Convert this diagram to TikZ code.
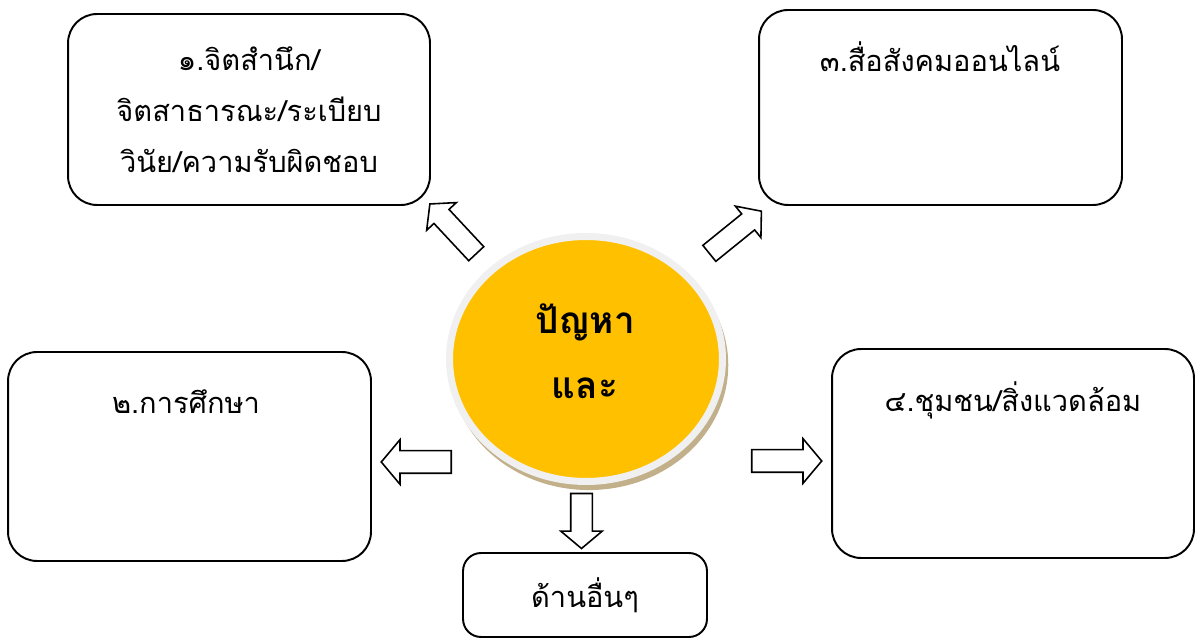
\documentclass[tikz,border=0pt]{standalone}
\usepackage{fontspec}
\usepackage{tikz}
\usetikzlibrary{shapes.geometric,shapes.arrows,shadows,positioning}
\newfontfamily\thaifont[Script=Thai]{Loma}
\definecolor{issueyellow}{HTML}{FFC000}
\definecolor{ringgray}{HTML}{F0F0F0}
\definecolor{shadowtan}{HTML}{C2B08A}

\begin{document}
\begin{tikzpicture}[
		x=0.02cm, y=-0.02cm,
		every node/.style={font=\thaifont\fontsize{16.5}{29}\selectfont},
		topicbox/.style={rectangle, draw, line width=1.1pt, rounded corners=0.58cm, inner sep=0pt},
		blockarrow/.style={single arrow, draw, fill=white, line width=0.9pt, inner xsep=0pt, inner ysep=0.2cm,
			minimum width=0.8cm, single arrow head extend=0.2cm, single arrow tip angle=100}
	]
  \useasboundingbox (0,0) rectangle (1197,641);
  \node (issue) [ellipse, draw=ringgray, line width=4pt, fill=issueyellow,
    minimum width=5.46cm, minimum height=4.9cm, inner sep=0pt,
    drop shadow={fill=shadowtan, opacity=1, shadow xshift=0.06cm, shadow yshift=-0.12cm, shadow scale=1.02}]
    at (586, 359) {};
  \node (issue_top) [font=\thaifont\bfseries\fontsize{21}{30}\selectfont] at (585, 322) {ปัญหา};
  \node (issue_bot) [font=\thaifont\bfseries\fontsize{21}{30}\selectfont] at (585, 388) {และ};
  \node (mind) [topicbox, minimum width=7.24cm, minimum height=3.82cm, align=center] at (249, 109.5)
    {๑.จิตสำนึก/\\จิตสาธารณะ/ระเบียบ\\วินัย/ความรับผิดชอบ};
  \node (media) [topicbox, minimum width=7.26cm, minimum height=3.9cm] at (940.5, 107.5) {};
  \node (media_text) at (940, 57) {๓.สื่อสังคมออนไลน์};
  \node (edu) [topicbox, minimum width=7.26cm, minimum height=4.18cm] at (189.5, 456.5) {};
  \node (edu_text) at (186, 402) {๒.การศึกษา};
  \node (env) [topicbox, minimum width=7.24cm, minimum height=4.18cm] at (1013, 453.5) {};
  \node (env_text) at (1013, 400) {๔.ชุมชน/สิ่งแวดล้อม};
  \node (other) [topicbox, rounded corners=0.36cm, minimum width=4.88cm, minimum height=1.68cm] at (585, 595)
    {ด้านอื่นๆ};
  \node (to_mind) [blockarrow, minimum height=1.36cm, inner ysep=0.19cm, rotate=133] at (456, 232) {};
  \node (to_media) [blockarrow, minimum height=1.34cm, inner ysep=0.19cm, rotate=39] at (732, 235) {};
  \node (to_edu) [blockarrow, minimum height=1.4cm, inner ysep=0.21cm, single arrow head extend=0.22cm, rotate=180] at (421, 462) {};
  \node (to_env) [blockarrow, minimum height=1.4cm, inner ysep=0.21cm, single arrow head extend=0.22cm] at (782, 461) {};
  \node (to_other) [blockarrow, minimum height=1.1cm, rotate=270] at (581.5, 516.5) {};
\end{tikzpicture}
\end{document}
